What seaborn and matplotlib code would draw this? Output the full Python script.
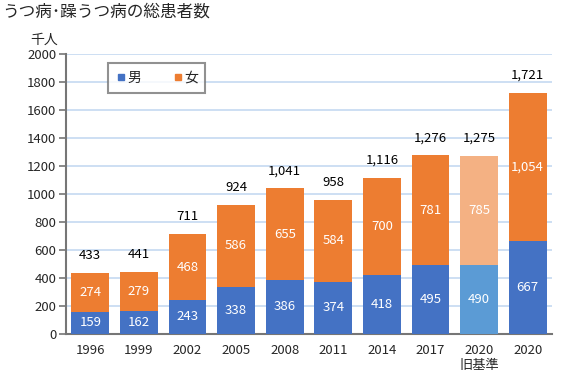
import matplotlib
matplotlib.use("Agg")
import matplotlib.pyplot as plt
import seaborn as sns
import pandas as pd
from matplotlib.lines import Line2D

# -------------------- Data --------------------
years = ["1996", "1999", "2002", "2005", "2008", "2011", "2014", "2017", "2020\n旧基準", "2020"]
male = [159, 162, 243, 338, 386, 374, 418, 495, 490, 667]
female = [274, 279, 468, 586, 655, 584, 700, 781, 785, 1054]
totals = [433, 441, 711, 924, 1041, 958, 1116, 1276, 1275, 1721]

BLUE, ORANGE = "#4472C4", "#ED7D31"
LBLUE, LORANGE = "#5B9BD5", "#F4B183"

df = pd.DataFrame({"year": years, "male": male, "female": female, "total": totals})
df["stack"] = df["male"] + df["female"]

sns.set_theme(style="white")
plt.rcParams["font.family"] = ["Noto Sans CJK JP", "DejaVu Sans"]

fig = plt.figure(figsize=(5.72, 3.81), dpi=100)
ax = fig.add_axes([0.1154, 0.1234, 0.8496, 0.7346])

fem_colors = [LORANGE if "旧" in y else ORANGE for y in years]
male_colors = [LBLUE if "旧" in y else BLUE for y in years]

# female on top of male -> draw full stack first, then male over it
sns.barplot(data=df, x="year", y="stack", hue="year", palette=fem_colors,
            order=years, hue_order=years, width=0.78, legend=False,
            saturation=1, linewidth=0, ax=ax, zorder=2)
sns.barplot(data=df, x="year", y="male", hue="year", palette=male_colors,
            order=years, hue_order=years, width=0.78, legend=False,
            saturation=1, linewidth=0, ax=ax, zorder=3)

for i, row in df.iterrows():
    ax.text(i, row["male"] / 2, f"{row['male']}", ha="center", va="center",
            color="white", fontsize=9.5, zorder=4)
    ax.text(i, row["male"] + row["female"] / 2, f"{row['female']:,}", ha="center",
            va="center", color="white", fontsize=9.5, zorder=4)
    ax.annotate(f"{row['total']:,}", (i, row["stack"]), xytext=(0, 8),
                textcoords="offset points", ha="center", va="bottom",
                fontsize=9.5, color="black")

ax.set_ylim(0, 2000)
ax.set_yticks(range(0, 2001, 200))
ax.set_xlim(-0.5, len(years) - 0.5)
ax.set_xlabel("")
ax.set_ylabel("")
ax.grid(True, axis="y", color="#C5D9F1", linewidth=1.2, zorder=0)
ax.set_axisbelow(True)

for s in ["top", "right"]:
    ax.spines[s].set_visible(False)
for s in ["left", "bottom"]:
    ax.spines[s].set_color("#767676")
    ax.spines[s].set_linewidth(1.5)

ax.tick_params(axis="y", left=True, length=5, width=1.2, color="#767676",
               labelsize=9.5, pad=2)
ax.tick_params(axis="x", bottom=False, labelsize=9.5, pad=1)

fig.text(0.004, 0.968, "うつ病･躁うつ病の総患者数", fontsize=12, ha="left", va="center")
ax.text(-0.045, 1.025, "千人", transform=ax.transAxes, fontsize=10, ha="center", va="bottom")

handles = [Line2D([], [], marker="s", linestyle="", color=BLUE, markersize=5, label="男"),
           Line2D([], [], marker="s", linestyle="", color=ORANGE, markersize=5, label="女")]
leg = ax.legend(handles=handles, ncol=2, loc="upper left", bbox_to_anchor=(0.087, 0.967),
                frameon=True, fancybox=False, fontsize=10, handletextpad=0.05,
                columnspacing=2.2, handlelength=0.8, borderpad=0.55,
                borderaxespad=0)
leg.get_frame().set_edgecolor("#767676")
leg.get_frame().set_linewidth(1.5)

fig.savefig("out.png", dpi=100)
